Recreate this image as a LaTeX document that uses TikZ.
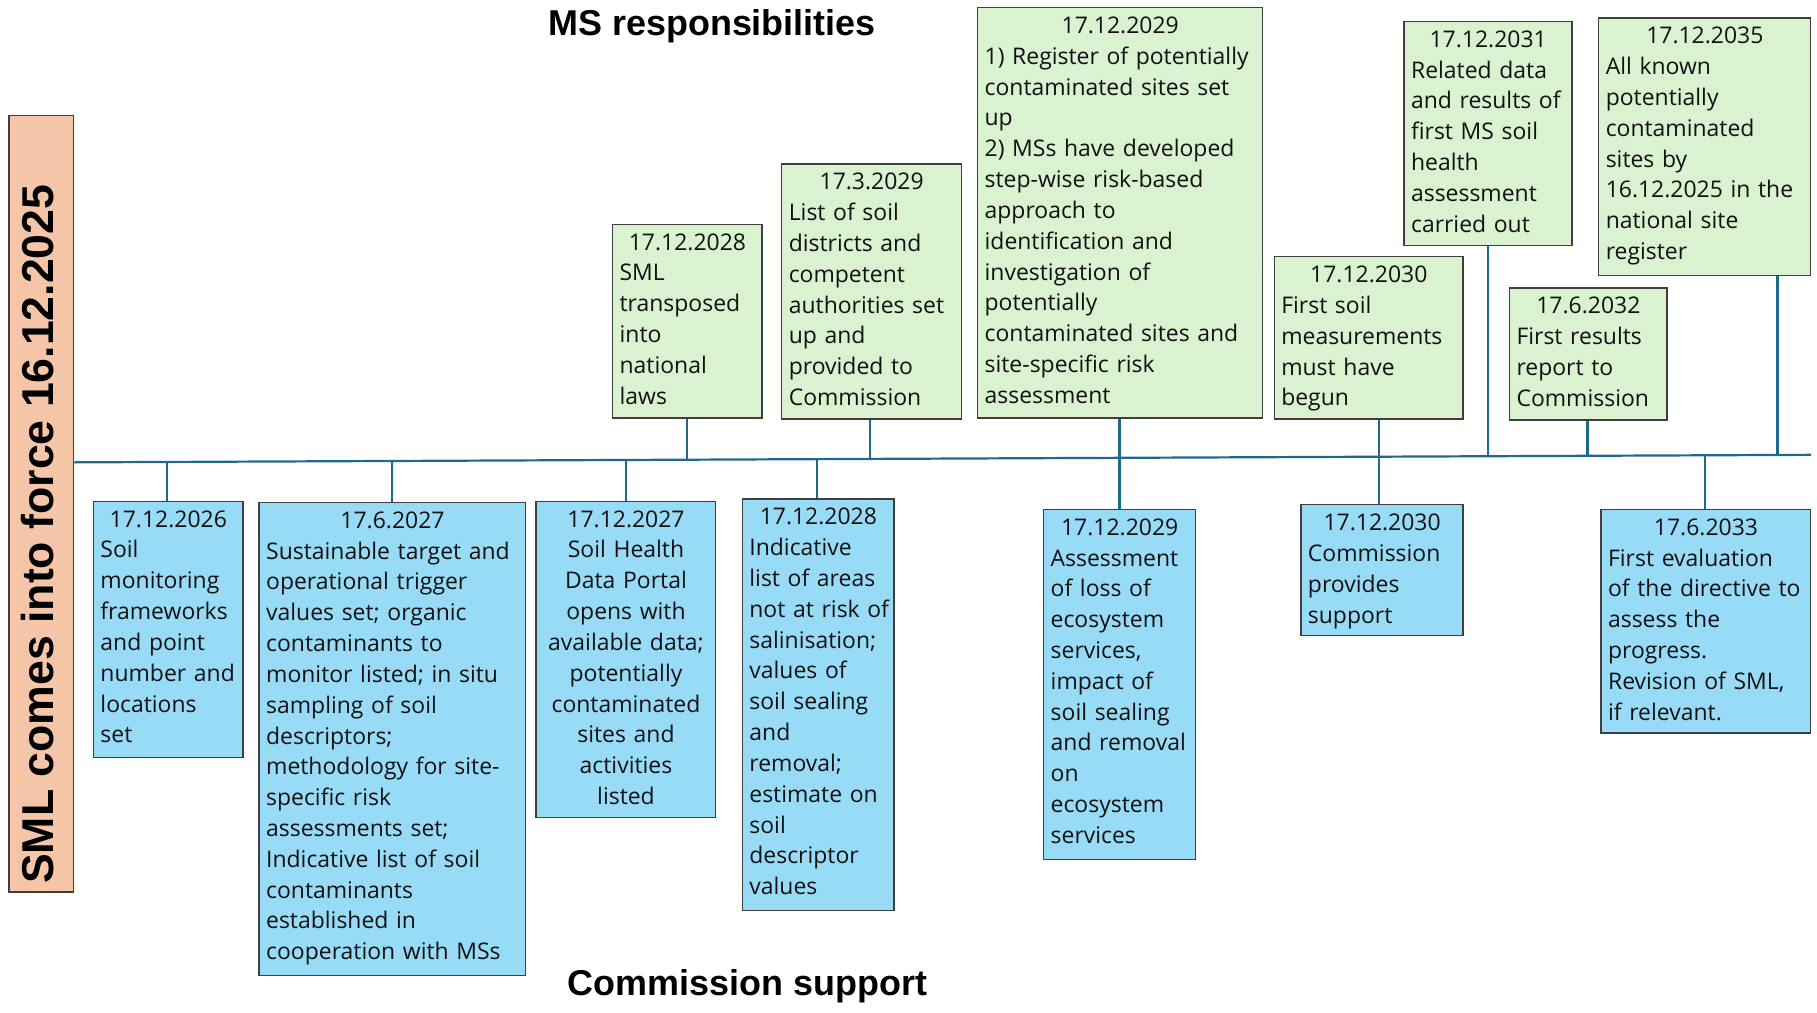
\documentclass[tikz,border=0pt]{standalone}
\usepackage{fontspec}
\setmainfont{Open Sans}
\newfontfamily\headfont{Liberation Sans}
\usetikzlibrary{calc}

\definecolor{msgreen}{HTML}{D9F2D0}
\definecolor{csblue}{HTML}{97DBF7}
\definecolor{peach}{HTML}{F5C5A8}
\definecolor{tline}{HTML}{1F6A8C}
\definecolor{edge}{HTML}{3F3F3F}
\definecolor{ink}{HTML}{111111}

\tikzset{
  card/.style={draw=edge, line width=1.2pt, anchor=north west, inner sep=0pt},
  cardtext/.style={anchor=north west, inner sep=0pt, text=ink,
    font=\fontsize{19.8}{26.6}\selectfont},
  conn/.style={draw=tline, line width=1.9pt},
  heading/.style={font=\headfont\bfseries\fontsize{31}{34}\selectfont, text=black, inner sep=0pt},
}

% card: name, x, y, width, height, fill, alignment, text
\newcommand\card[8]{%
  \node[card, fill=#6, minimum width=#4pt, minimum height=#5pt] (#1) at (#2,#3) {};
  \pgfmathsetmacro\cardtw{#4-12}%
  \node[cardtext, text width=\cardtw pt, align=#7] (#1-txt)
    at ($(#1.north west)+(6.5,8.3)$) {#8};
}
% centred date line at the head of a card
\newcommand\when[1]{\makebox[\hsize][c]{#1}}
% point on the time axis at a given x
\newcommand\tick[2]{\coordinate (#1) at ($(tlA)!{(#2-63)/1500}!(tlB)$);}

\begin{document}
\begin{tikzpicture}[x=1pt, y=-1pt]
\useasboundingbox (0,0) rectangle (1568,874);

% entry into force
\node[draw=edge, line width=1.2pt, fill=peach, anchor=north west, inner sep=0pt,
      minimum width=56pt, minimum height=670pt] (force) at (7,99) {};
\node[rotate=90, inner sep=0pt, font=\headfont\bfseries\fontsize{38.5}{40}\selectfont]
  (force-txt) at (32.5,461) {SML comes into force 16.12.2025};

% headings
\node[heading, anchor=base] (ms) at (614.5,31) {MS responsibilities};
\node[heading, anchor=base] (cs) at (645,859) {Commission support};

% MS responsibilities
\card{G1}{528}{193}{129}{167}{msgreen}{left}{\when{17.12.2028}\\SML\\transposed\\into\\national\\laws}
\card{G2}{674}{141}{155}{220}{msgreen}{left}{\when{17.3.2029}\\List of soil\\districts and\\competent\\authorities set\\up and\\provided to\\Commission}
\card{G3}{843}{6}{246}{354}{msgreen}{left}{\when{17.12.2029}\\1) Register of potentially\\contaminated sites set\\up\\2) MSs have developed\\step-wise risk-based\\approach to\\identification and\\investigation of\\potentially\\contaminated sites and\\site-specific risk\\assessment}
\card{G4}{1099}{221}{163}{140}{msgreen}{left}{\when{17.12.2030}\\First soil\\measurements\\must have\\begun}
\card{G5}{1211}{18}{145}{193}{msgreen}{left}{\when{17.12.2031}\\Related data\\and results of\\first MS soil\\health\\assessment\\carried out}
\card{G6}{1302}{248}{136}{114}{msgreen}{left}{\when{17.6.2032}\\First results\\report to\\Commission}
\card{G7}{1379}{15}{183}{222}{msgreen}{left}{\when{17.12.2035}\\All known\\potentially\\contaminated\\sites by\\16.12.2025 in the\\national site\\register}

% Commission support
\card{B1}{80}{432}{129}{221}{csblue}{left}{\when{17.12.2026}\\Soil\\monitoring\\frameworks\\and point\\number~and\\locations\\set}
\card{B2}{223}{433}{230}{408}{csblue}{left}{\when{17.6.2027}\\Sustainable target and\\operational trigger\\values set; organic\\contaminants to\\monitor listed; in situ\\sampling of soil\\descriptors;\\methodology for site-\\specific risk\\assessments set;\\Indicative list of soil\\contaminants\\established in\\cooperation with MSs}
\card{B3}{462}{432}{155}{273}{csblue}{center}{17.12.2027\\Soil Health\\Data Portal\\opens with\\available data;\\potentially\\contaminated\\sites and\\activities\\listed}
\card{B4}{640}{430}{131}{355}{csblue}{left}{\when{17.12.2028}\\Indicative\\list~of~areas\\not~at~risk~of\\salinisation;\\values of\\soil sealing\\and\\removal;\\estimate~on\\soil\\descriptor\\values}
\card{B5}{900}{439}{131}{302}{csblue}{left}{\when{17.12.2029}\\Assessment\\of loss of\\ecosystem\\services,\\impact of\\soil sealing\\and~removal\\on\\ecosystem\\services}
\card{B6}{1122}{435}{140}{113}{csblue}{left}{\when{17.12.2030}\\Commission\\provides\\support}
\card{B7}{1381}{439}{181}{193}{csblue}{left}{\when{17.6.2033}\\First evaluation\\of the directive to\\assess the\\progress.\\Revision of SML,\\if relevant.}

% time axis
\coordinate (tlA) at (63,399);
\coordinate (tlB) at (1563,392.5);
\draw[conn] (tlA) -- (tlB);

\tick{tG1}{593}
\tick{tG2}{751}
\tick{tG3}{966}
\tick{tG4}{1190}
\tick{tG5}{1284}
\tick{tG6}{1370}
\tick{tG7}{1534}
\tick{tB1}{144}
\tick{tB2}{338}
\tick{tB3}{540}
\tick{tB4}{705}
\tick{tB7}{1471}

% connectors above the axis
\draw[conn] (G1.south -| tG1) -- (tG1);
\draw[conn] (G2.south -| tG2) -- (tG2);
\draw[conn] (G5.south -| tG5) -- (tG5);
\draw[conn] (G6.south -| tG6) -- (tG6);
\draw[conn] (G7.south -| tG7) -- (tG7);
% connectors crossing the axis
\draw[conn] (G3.south -| tG3) -- (B5.north -| tG3);
\draw[conn] (G4.south -| tG4) -- (B6.north -| tG4);
% connectors below the axis
\draw[conn] (tB1) -- (B1.north -| tB1);
\draw[conn] (tB2) -- (B2.north -| tB2);
\draw[conn] (tB3) -- (B3.north -| tB3);
\draw[conn] (tB4) -- (B4.north -| tB4);
\draw[conn] (tB7) -- (B7.north -| tB7);
\end{tikzpicture}
\end{document}
